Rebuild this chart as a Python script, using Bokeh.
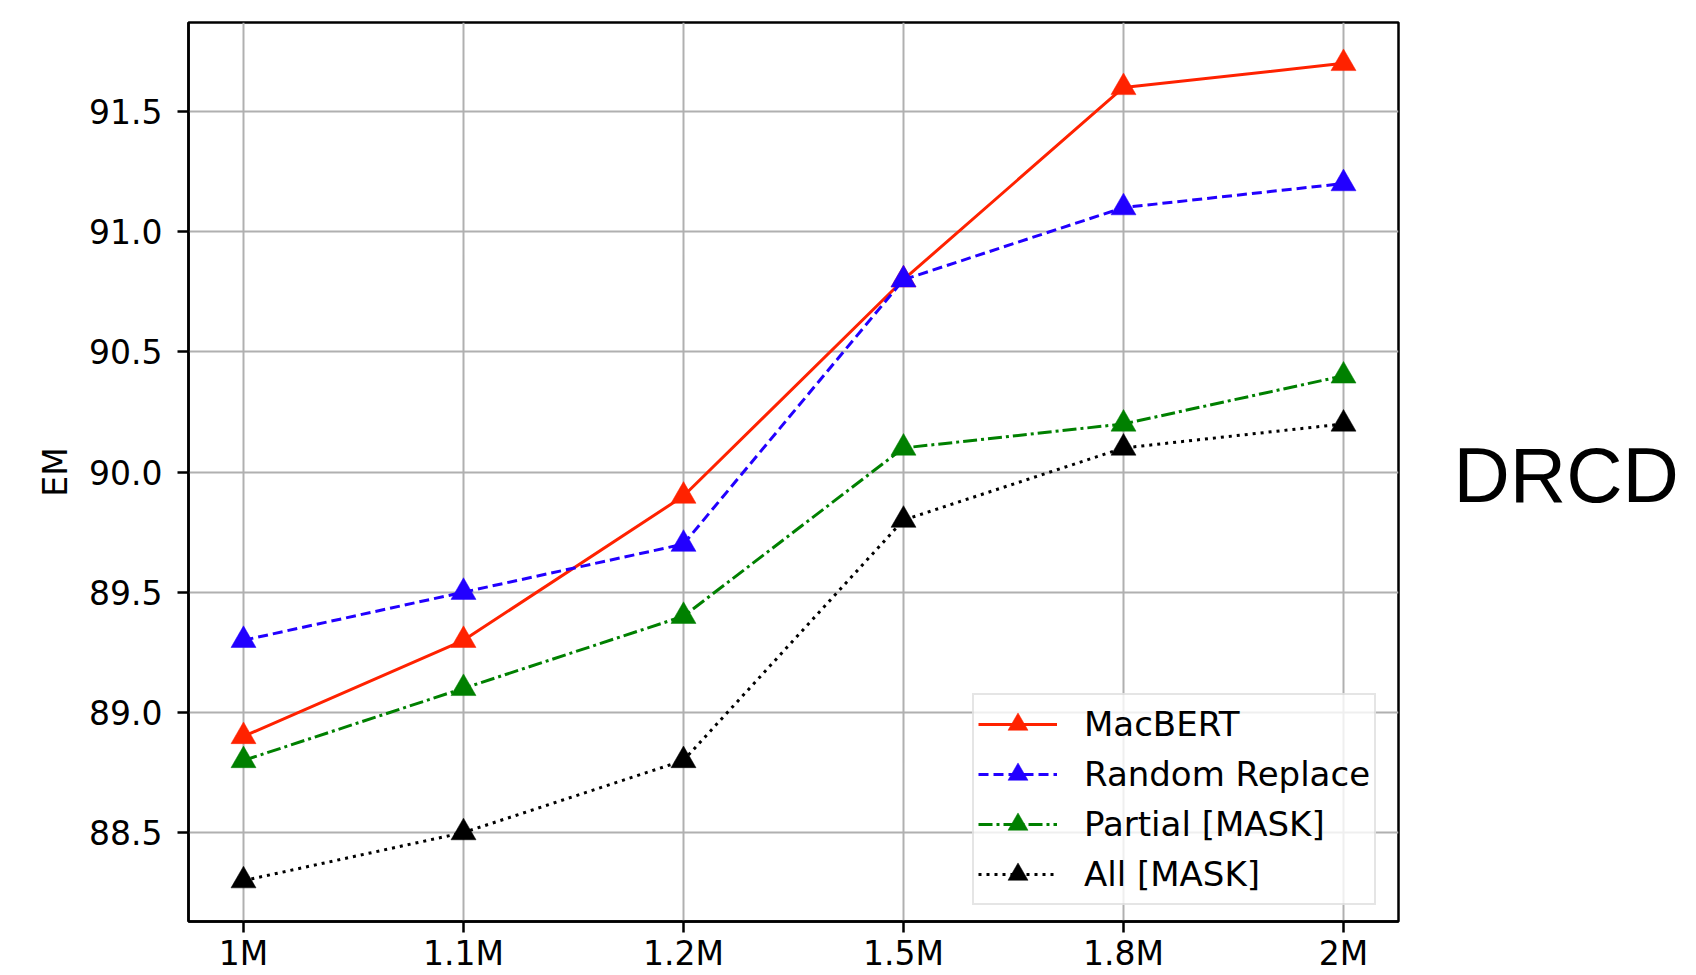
from bokeh.plotting import figure
from bokeh.layouts import row
from bokeh.models import (FixedTicker, Range1d, Legend, LegendItem, Label)
from bokeh.embed import file_html
from bokeh.resources import INLINE

# ---- data ----
sizes = ["1M", "1.1M", "1.2M", "1.5M", "1.8M", "2M"]
macbert = [88.9, 89.3, 89.9, 90.8, 91.6, 91.7]
random_replace = [89.3, 89.5, 89.7, 90.8, 91.1, 91.2]
partial_mask = [88.8, 89.1, 89.4, 90.1, 90.2, 90.4]
all_mask = [88.3, 88.5, 88.8, 89.8, 90.1, 90.2]
y_ticks = [88.5, 89.0, 89.5, 90.0, 90.5, 91.0, 91.5]
series_names = ["MacBERT", "Random Replace", "Partial [MASK]", "All [MASK]"]
y_label = "EM"
side_title = "DRCD"

xs = list(range(len(sizes)))
all_vals = macbert + random_replace + partial_mask + all_mask
lo, hi = min(all_vals), max(all_vals)
pad = 0.05 * (hi - lo)
xpad = 0.05 * (len(sizes) - 1)

FONT = "DejaVu Sans"
FS = "33px"
H = 975

p = figure(width=1410, height=H, output_backend="svg", toolbar_location=None,
           x_range=Range1d(-xpad, len(sizes) - 1 + xpad),
           y_range=Range1d(lo - pad, hi + pad),
           min_border_left=188, min_border_top=22, min_border_right=12,
           min_border_bottom=40)

p.outline_line_color = "black"
p.outline_line_width = 2.5
p.background_fill_color = "white"
p.border_fill_color = "white"

for ax in (p.xaxis[0], p.yaxis[0]):
    ax.axis_line_color = "black"
    ax.axis_line_width = 2.5
    ax.major_tick_line_color = "black"
    ax.major_tick_line_width = 2.5
    ax.major_tick_out = 11
    ax.major_tick_in = 0
    ax.minor_tick_line_color = None
    ax.major_label_text_font = FONT
    ax.major_label_text_font_size = FS
    ax.major_label_text_color = "black"

p.xaxis.ticker = FixedTicker(ticks=xs)
p.xaxis.major_label_overrides = {i: s for i, s in zip(xs, sizes)}
p.xaxis.major_label_standoff = 1
p.yaxis.ticker = FixedTicker(ticks=y_ticks)
p.yaxis.major_label_overrides = {v: f"{v:.1f}" for v in y_ticks}
p.yaxis.major_label_standoff = 15
p.yaxis.axis_label = y_label
p.yaxis.axis_label_text_font = FONT
p.yaxis.axis_label_text_font_size = FS
p.yaxis.axis_label_text_font_style = "normal"
p.yaxis.axis_label_text_color = "black"
p.yaxis.axis_label_standoff = 11

for g in (p.xgrid[0], p.ygrid[0]):
    g.grid_line_color = "#b0b0b0"
    g.grid_line_width = 2

styles = [
    (macbert, "#ff2200", "solid"),
    (random_replace, "#2200ff", "10 5"),
    (partial_mask, "#008000", "14 4 3 4"),
    (all_mask, "black", "3 5"),
]

items = []
for name, (vals, col, dash) in zip(series_names, styles):
    ln = p.line(xs, vals, line_color=col, line_width=3, line_dash=dash)
    sc = p.scatter(xs, vals, marker="triangle", size=25, fill_color=col,
                   line_color=col, line_width=0.5)
    items.append(LegendItem(label=name, renderers=[ln, sc]))

legend = Legend(items=items, location=(784, 16), orientation="vertical",
                label_text_font=FONT, label_text_font_size="34px",
                label_text_color="black",
                glyph_width=79, glyph_height=50, spacing=0, padding=4,
                label_standoff=27, margin=0,
                border_line_color="#cccccc", border_line_width=2,
                background_fill_color="white", background_fill_alpha=0.8)
p.add_layout(legend, "center")

# side title panel
W2 = 1696 - 1410
p2 = figure(width=W2, height=H, output_backend="svg", toolbar_location=None,
            x_range=Range1d(0, W2), y_range=Range1d(0, H),
            x_axis_type=None, y_axis_type=None, min_border=0)
p2.outline_line_color = None
p2.grid.visible = False
p2.add_layout(Label(x=43, y=H - 491, text=side_title,
                    text_font="Liberation Sans", text_font_size="78px",
                    text_color="black", text_baseline="alphabetic",
                    text_align="left"))

layout = row(p, p2, spacing=0)
open("out.html", "w").write(file_html(layout, INLINE))
